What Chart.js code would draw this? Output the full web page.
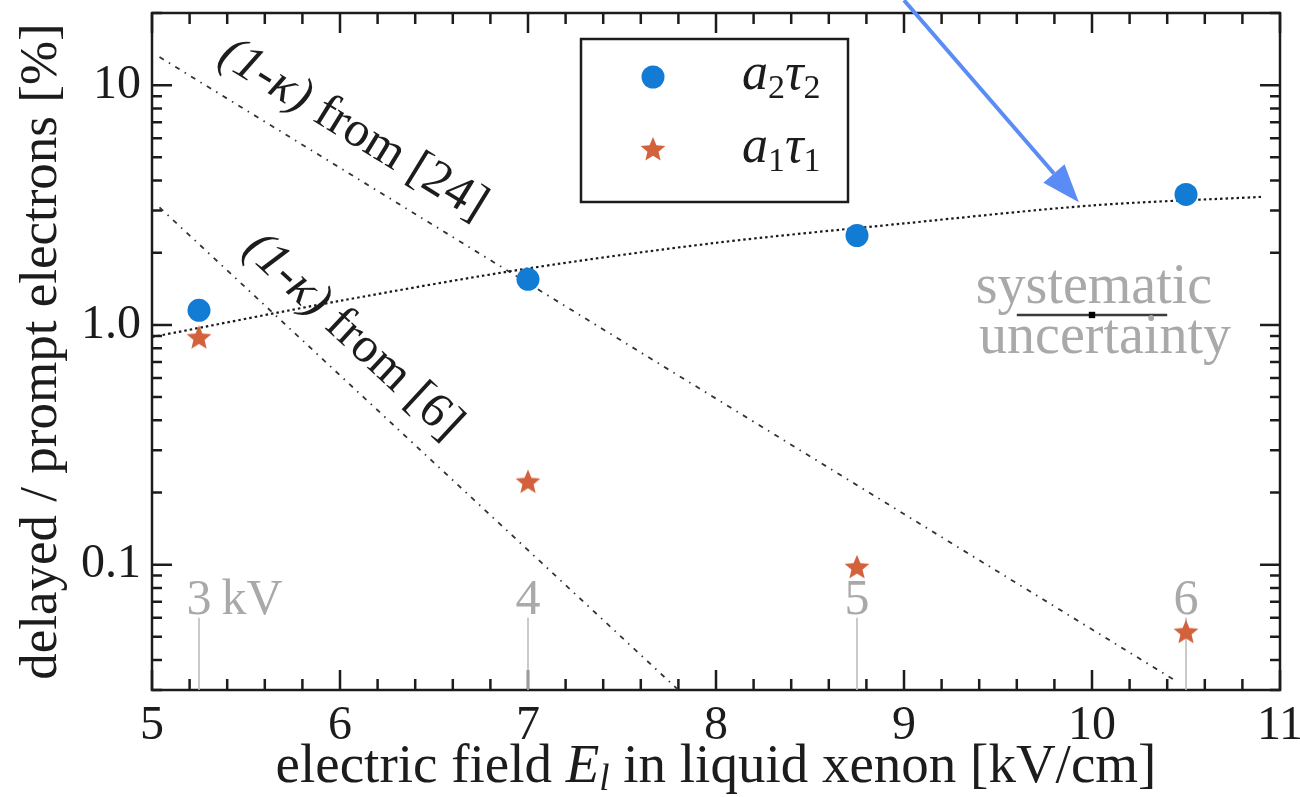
<!DOCTYPE html>
<html>
<head>
<meta charset="utf-8">
<script src="https://cdn.jsdelivr.net/npm/chart.js@4.4.1/dist/chart.umd.min.js"></script>
<style>
    html, body { margin: 0; padding: 0; background: #fff; }
</style>
</head>
<body>
<canvas id="chart" width="1300" height="797"></canvas>
<script>
// measured points, field in kV/cm, ratio in %
const fieldKV = [5.25, 7.0, 8.75, 10.5];
const a2tau2 = [1.15, 1.55, 2.36, 3.50];
const a1tau1 = [0.88, 0.22, 0.097, 0.052];

// dotted trend through a2tau2
const trendField = [5.0, 6.0, 7.0, 8.0, 9.0, 10.0, 10.9];
const trendValue = [0.89, 1.26, 1.72, 2.2, 2.65, 3.15, 3.42];

// (1-kappa) curves, straight on the log axis
const kappa24Field = [5.04, 10.45];
const kappa24Value = [13.1, 0.0326];
const kappa6Field = [5.04, 7.8];
const kappa6Value = [3.09, 0.030];

// anode voltages marked along the bottom
const voltageLabels = ['3 kV', '4', '5', '6'];
const voltageMarkTop = 0.06;

// systematic uncertainty bar
const sysField = [9.6, 10.0, 10.4];
const sysValue = 1.1;

const yTickValues = [0.1, 1, 10];
const yMin = 0.03, yMax = 20;
const xMin = 5, xMax = 11;

const BLUE = '#127cd4';
const ORANGE = '#d3613b';
const GRAY = '#a9a9a9';
const INK = '#1c1c1c';
const SERIF = "'Liberation Serif', 'DejaVu Serif', serif";

Chart.defaults.font.family = SERIF;
Chart.defaults.color = INK;

// filled five point star used as point style
function makeStar(r, color) {
    const c = document.createElement('canvas');
    c.width = c.height = 2 * r + 2;
    const g = c.getContext('2d');
    g.fillStyle = color;
    g.beginPath();
    for (let i = 0; i < 10; i++) {
        const a = -Math.PI / 2 + i * Math.PI / 5;
        const rr = i % 2 ? r * 0.45 : r;
        g.lineTo(r + 1 + rr * Math.cos(a), r + 1 + rr * Math.sin(a));
    }
    g.closePath();
    g.fill();
    return c;
}
const starImg = makeStar(13, ORANGE);

function pairs(xs, ys) {
    return xs.map((x, i) => ({ x: x, y: ys[i] }));
}

// vertical marker lines, broken by gaps
const voltageLines = [];
fieldKV.forEach(x => {
    voltageLines.push({ x: x, y: yMin }, { x: x, y: voltageMarkTop }, { x: x, y: null });
});

// draw text made of several font runs
function drawRuns(ctx, runs, x, y) {
    let cx = x;
    runs.forEach(r => {
        ctx.font = r.font;
        ctx.fillText(r.text, cx, y + (r.dy || 0));
        cx += ctx.measureText(r.text).width;
    });
    return cx - x;
}
function runsWidth(ctx, runs) {
    let w = 0;
    runs.forEach(r => { ctx.font = r.font; w += ctx.measureText(r.text).width; });
    return w;
}

const framePlugin = {
    id: 'frame',
    beforeDatasetsDraw(chart) {
        const ctx = chart.ctx;
        const { left, right, top, bottom } = chart.chartArea;
        const xs = chart.scales.x, ys = chart.scales.y;
        ctx.save();
        ctx.strokeStyle = INK;
        ctx.lineWidth = 2.5;
        ctx.strokeRect(left, top, right - left, bottom - top);
        ctx.beginPath();
        // x ticks, every 0.2
        for (let i = 0; i <= 30; i++) {
            const v = xMin + i * 0.2;
            const len = i % 5 === 0 ? 20 : 11;
            const px = xs.getPixelForValue(v);
            ctx.moveTo(px, bottom); ctx.lineTo(px, bottom - len);
            ctx.moveTo(px, top); ctx.lineTo(px, top + len);
        }
        // log y ticks
        [0.01, 0.1, 1, 10].forEach(dec => {
            for (let m = 1; m <= 9; m++) {
                const v = m * dec;
                if (v < yMin - 1e-9 || v > yMax + 1e-9) continue;
                const len = m === 1 ? 20 : 10;
                const py = ys.getPixelForValue(v);
                ctx.moveTo(left, py); ctx.lineTo(left + len, py);
                ctx.moveTo(right, py); ctx.lineTo(right - len, py);
            }
        });
        ctx.stroke();
        ctx.restore();
    },
    afterDatasetsDraw(chart) {
        const ctx = chart.ctx;
        const { left, right, top, bottom } = chart.chartArea;
        const xs = chart.scales.x, ys = chart.scales.y;
        ctx.save();
        ctx.fillStyle = INK;
        ctx.textBaseline = 'alphabetic';

        // axis titles
        const xTitle = [
            { text: 'electric field ', font: '55px ' + SERIF },
            { text: 'E', font: 'italic 55px ' + SERIF },
            { text: 'l', font: 'italic 37px ' + SERIF, dy: 8 },
            { text: ' in liquid xenon [kV/cm]', font: '55px ' + SERIF }
        ];
        const xw = runsWidth(ctx, xTitle);
        drawRuns(ctx, xTitle, (left + right) / 2 - xw / 2, 782);

        ctx.save();
        ctx.translate(56, (top + bottom) / 2);
        ctx.rotate(-Math.PI / 2);
        ctx.textAlign = 'center';
        ctx.font = '53px ' + SERIF;
        ctx.fillText('delayed / prompt electrons [%]', 0, 0);
        ctx.restore();

        // (1-kappa) labels along their lines
        function lineLabel(fx, fy, atX, offset, runs) {
            const p0 = { x: xs.getPixelForValue(fx[0]), y: ys.getPixelForValue(fy[0]) };
            const p1 = { x: xs.getPixelForValue(fx[1]), y: ys.getPixelForValue(fy[1]) };
            const ang = Math.atan2(p1.y - p0.y, p1.x - p0.x);
            const ax = xs.getPixelForValue(atX);
            const f = (ax - p0.x) / (p1.x - p0.x);
            const ay = p0.y + f * (p1.y - p0.y);
            ctx.save();
            ctx.translate(ax + offset * Math.sin(ang), ay - offset * Math.cos(ang));
            ctx.rotate(ang);
            drawRuns(ctx, runs, 0, 0);
            ctx.restore();
        }
        lineLabel(kappa24Field, kappa24Value, 5.27, 26, [
            { text: '(1-κ)', font: 'italic 50px ' + SERIF },
            { text: ' from [24]', font: '50px ' + SERIF }
        ]);
        lineLabel(kappa6Field, kappa6Value, 5.39, 24, [
            { text: '(1-κ)', font: 'italic 50px ' + SERIF },
            { text: ' from [6]', font: '50px ' + SERIF }
        ]);

        // voltage labels
        ctx.fillStyle = GRAY;
        ctx.font = '50px ' + SERIF;
        const markTopPx = ys.getPixelForValue(voltageMarkTop);
        voltageLabels.forEach((lab, i) => {
            const px = xs.getPixelForValue(fieldKV[i]);
            const first = lab.charAt(0);
            const w0 = ctx.measureText(first).width;
            ctx.fillText(lab.replace(' ', '\u2009'), px - w0 / 2, markTopPx - 4);
        });

        // systematic uncertainty text
        const sx = xs.getPixelForValue(sysField[1]);
        const sy = ys.getPixelForValue(sysValue);
        ctx.textAlign = 'center';
        ctx.font = '56px ' + SERIF;
        ctx.fillText('systematic', sx + 2, sy - 12);
        ctx.fillText('uncertainty', sx + 13, sy + 38);
        ctx.textAlign = 'left';

        // legend
        const lx = left + 429, ly = top + 26, lw = 267, lh = 163;
        ctx.fillStyle = '#fff';
        ctx.fillRect(lx, ly, lw, lh);
        ctx.strokeStyle = INK;
        ctx.lineWidth = 2.5;
        ctx.strokeRect(lx, ly, lw, lh);
        ctx.fillStyle = BLUE;
        ctx.beginPath();
        ctx.arc(lx + 72, ly + 38, 11.5, 0, Math.PI * 2);
        ctx.fill();
        ctx.drawImage(starImg, lx + 72 - starImg.width / 2, ly + 111 - starImg.height / 2);
        ctx.fillStyle = INK;
        const sub = (t) => ({ text: t, font: '34px ' + SERIF, dy: 9 });
        drawRuns(ctx, [
            { text: 'a', font: 'italic 52px ' + SERIF }, sub('2'),
            { text: 'τ', font: 'italic 52px ' + SERIF }, sub('2')
        ], lx + 161, ly + 50);
        drawRuns(ctx, [
            { text: 'a', font: 'italic 52px ' + SERIF }, sub('1'),
            { text: 'τ', font: 'italic 52px ' + SERIF }, sub('1')
        ], lx + 161, ly + 123);

        // blue pointer arrow onto the trend line
        const tail = { x: xs.getPixelForValue(9.0), y: ys.getPixelForValue(22.6) };
        const tip = { x: xs.getPixelForValue(9.93), y: ys.getPixelForValue(3.25) };
        const a = Math.atan2(tip.y - tail.y, tip.x - tail.x);
        const headLen = 38, headHalf = 14;
        const bx = tip.x - headLen * Math.cos(a), by = tip.y - headLen * Math.sin(a);
        ctx.strokeStyle = '#5b8cf6';
        ctx.fillStyle = '#5b8cf6';
        ctx.lineWidth = 4;
        ctx.beginPath();
        ctx.moveTo(tail.x, tail.y);
        ctx.lineTo(bx, by);
        ctx.stroke();
        ctx.beginPath();
        ctx.moveTo(tip.x, tip.y);
        ctx.lineTo(bx + headHalf * Math.sin(a), by - headHalf * Math.cos(a));
        ctx.lineTo(bx - headHalf * Math.sin(a), by + headHalf * Math.cos(a));
        ctx.closePath();
        ctx.fill();

        ctx.restore();
    }
};

new Chart(document.getElementById('chart'), {
    type: 'scatter',
    data: {
        datasets: [
            {
                label: 'a2tau2',
                data: pairs(fieldKV, a2tau2),
                pointStyle: 'circle',
                pointRadius: 11.5,
                backgroundColor: BLUE,
                borderWidth: 0,
                order: 0
            },
            {
                label: 'a1tau1',
                data: pairs(fieldKV, a1tau1),
                pointStyle: starImg,
                pointRadius: 13,
                order: 1
            },
            {
                label: 'trend',
                type: 'line',
                data: pairs(trendField, trendValue),
                borderColor: '#1a1a1a',
                borderWidth: 2.2,
                borderDash: [2.5, 3],
                pointRadius: 0,
                tension: 0.3,
                order: 5
            },
            {
                label: 'kappa24',
                type: 'line',
                data: pairs(kappa24Field, kappa24Value),
                borderColor: '#333',
                borderWidth: 1.8,
                borderDash: [5, 6, 1.5, 6],
                pointRadius: 0,
                order: 6
            },
            {
                label: 'kappa6',
                type: 'line',
                data: pairs(kappa6Field, kappa6Value),
                borderColor: '#333',
                borderWidth: 1.8,
                borderDash: [5, 6, 1.5, 6],
                pointRadius: 0,
                order: 6
            },
            {
                label: 'voltages',
                type: 'line',
                data: voltageLines,
                borderColor: '#bdbdbd',
                borderWidth: 1.6,
                pointRadius: 0,
                spanGaps: false,
                order: 7
            },
            {
                label: 'systematic',
                type: 'line',
                data: [{ x: sysField[0], y: sysValue }, { x: sysField[2], y: sysValue }],
                borderColor: '#3a3a3a',
                borderWidth: 2.5,
                pointRadius: 0,
                order: 3
            },
            {
                label: 'systematic centre',
                data: [{ x: sysField[1], y: sysValue }],
                pointStyle: 'rect',
                pointRadius: 4.5,
                backgroundColor: '#000',
                borderWidth: 0,
                order: 2
            }
        ]
    },
    options: {
        responsive: false,
        animation: false,
        layout: {
            autoPadding: false,
            padding: { top: 13, right: 20, left: 0, bottom: 0 }
        },
        plugins: {
            legend: { display: false },
            tooltip: { enabled: false }
        },
        scales: {
            x: {
                type: 'linear',
                min: xMin,
                max: xMax,
                grid: { display: false },
                border: { display: false },
                ticks: {
                    stepSize: 1,
                    padding: 0,
                    color: INK,
                    font: { size: 48 }
                },
                afterFit(scale) {
                    scale.height = 107;
                    scale.paddingLeft = 0;
                    scale.paddingRight = 0;
                }
            },
            y: {
                type: 'logarithmic',
                min: yMin,
                max: yMax,
                grid: { display: false },
                border: { display: false },
                ticks: {
                    padding: 3,
                    color: INK,
                    font: { size: 48 },
                    callback: (v) => (v >= 10 ? String(v) : v.toFixed(1))
                },
                afterBuildTicks(scale) {
                    scale.ticks = yTickValues.map(v => ({ value: v }));
                },
                afterFit(scale) {
                    scale.width = 152;
                    scale.paddingTop = 0;
                    scale.paddingBottom = 0;
                }
            }
        }
    },
    plugins: [framePlugin]
});
</script>
</body>
</html>
